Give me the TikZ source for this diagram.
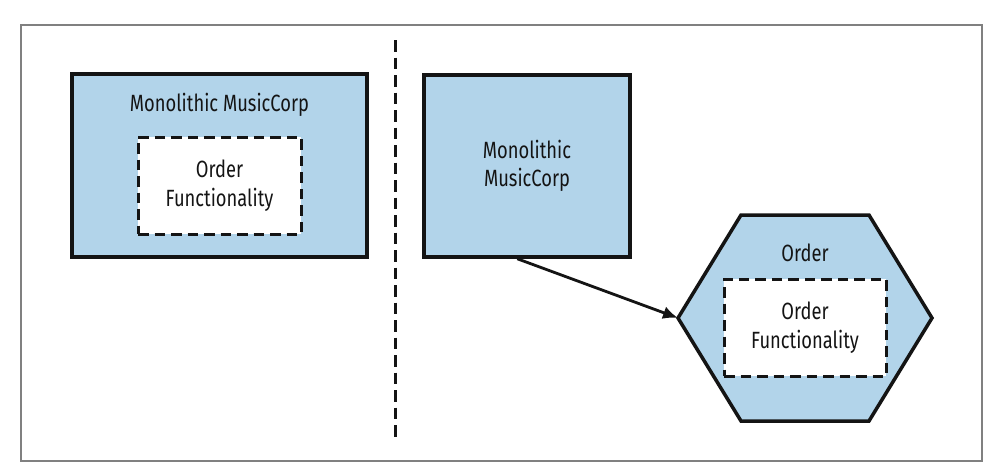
\documentclass[tikz,border=0pt]{standalone}
\usepackage{fontspec}
\setmainfont{Fira Sans}[FakeStretch=0.78]
\usetikzlibrary{arrows.meta}
\definecolor{boxblue}{HTML}{B2D4EA}
\definecolor{framegray}{HTML}{808080}
\definecolor{inkblack}{HTML}{141414}
\begin{document}
\begin{tikzpicture}[x=1pt,y=-1pt,
  frame/.style={draw=framegray, line width=1.6pt},
  bluebox/.style={draw=inkblack, line width=3.5pt, fill=boxblue, inner sep=0pt},
  dashbox/.style={draw=inkblack, line width=3pt, dash pattern=on 10.5pt off 6pt, fill=white, inner sep=0pt, align=center, font=\lbl},
  divider/.style={draw=inkblack, line width=3pt, dash pattern=on 11.5pt off 6pt},
  conn/.style={draw=inkblack, line width=2.8pt, -{Latex[length=15pt,width=13pt]}},
  lbl/.style={font=\lbl, text=inkblack, align=center, inner sep=0pt}]
\newcommand{\lbl}{\fontsize{23.5}{28.5}\selectfont}
\useasboundingbox[fill=white] (0,0) rectangle (1002,474);
\draw[frame] (21,25) rectangle (982,461);

% left side
\node[bluebox, minimum width=295pt, minimum height=183pt] (lbox) at (219.5,165.5) {};
\node[lbl, anchor=base] (ltitle) at (219.5,111) {Monolithic MusicCorp};
\node[dashbox, text=inkblack, minimum width=163pt, minimum height=97pt] (lorder) at (219.5,185.5) {Order\\Functionality};

% divider
\coordinate (dtop) at (395,40);
\coordinate (dbot) at (395,437);
\draw[divider] (dtop) -- (dbot);

% right side
\node[bluebox, lbl, minimum width=206pt, minimum height=182pt] (rbox) at (527,166) {Monolithic\\MusicCorp};

\coordinate (h1) at (741,215);
\coordinate (h2) at (869,215);
\coordinate (h3) at (932,318);
\coordinate (h4) at (869,421);
\coordinate (h5) at (741,421);
\coordinate (hexL) at (678,318);
\filldraw[draw=inkblack, fill=boxblue, line width=3.5pt, line join=miter] (h1) -- (h2) -- (h3) -- (h4) -- (h5) -- (hexL) -- cycle;
\node[lbl, anchor=base] (htitle) at (805,261) {Order};
\node[dashbox, text=inkblack, minimum width=162pt, minimum height=97pt] (rorder) at (805,327.5) {Order\\Functionality};

\draw[conn] (rbox.-96) -- (hexL);
\end{tikzpicture}
\end{document}
